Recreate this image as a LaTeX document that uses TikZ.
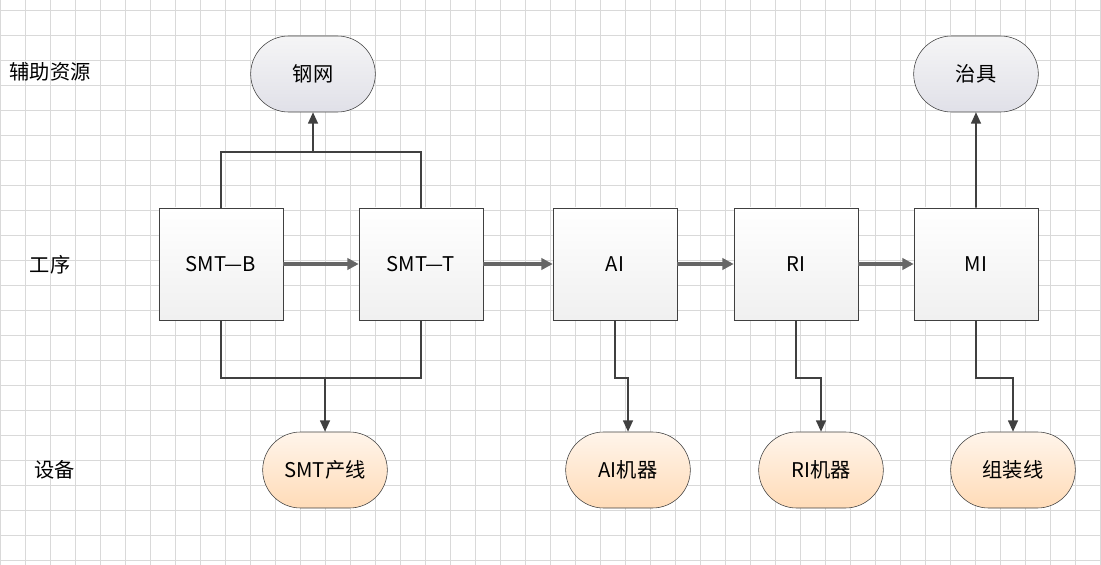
\documentclass[tikz,border=0pt]{standalone}
\usepackage{fontspec}
\setmainfont{Noto Sans CJK SC}
\usetikzlibrary{arrows.meta,positioning,shapes.misc}
\tikzset{%
	process/.style  = {draw=black!75, rectangle, minimum width=3.1cm, minimum height=2.8cm, top color=white, bottom color=black!6, font=\Large},
	stencil/.style  = {draw=black!75, rounded rectangle, minimum width=3.35cm, minimum height=1.9cm, top color=blue!12!black!4, bottom color=blue!25!black!12, font=\Large},
	machine/.style  = {draw=black!75, rounded rectangle, minimum width=3.35cm, minimum height=1.9cm, top color=orange!8, bottom color=orange!28, font=\Large},
	rowlabel/.style = {font=\Large},
	link/.style     = {draw=black!75, line width=1.1pt, -{Triangle[length=8pt,width=7pt]}},
	flow/.style     = {draw=black!60, line width=2.2pt, -{Triangle[length=8pt,width=8pt]}},
}
\begin{document}
\begin{tikzpicture}[x=0.025cm,y=-0.025cm]
	\useasboundingbox (0,0) rectangle (1101,565);
	% grid
	\foreach \gx in {0,25,...,1100} \draw[black!15] (\gx,0) -- (\gx,565);
	\foreach \gy in {10,35,...,560} \draw[black!15] (0,\gy) -- (1101,\gy);
	
	\node[rowlabel] (Laux) at (50,72) {辅助资源};
	\node[rowlabel] (Lstep) at (50,265) {工序};
	\node[rowlabel] (Ldev) at (55,470) {设备};
	
	\node[process] (SMTB) at (221,264) {SMT—B};
	\node[process] (SMTT) at (421,264) {SMT—T};
	\node[process] (AI) at (615,264) {AI};
	\node[process] (RI) at (796,264) {RI};
	\node[process] (MI) at (976,264) {MI};
	
	\node[stencil] (GW) at (313,74) {钢网};
	\node[stencil] (ZJ) at (976,74) {治具};
	
	\node[machine] (SMTL) at (325,470) {SMT产线};
	\node[machine] (AIM) at (628,470) {AI机器};
	\node[machine] (RIM) at (821,470) {RI机器};
	\node[machine] (ZZX) at (1013,470) {组装线};
	
	\draw[flow] (SMTB) -- (SMTT);
	\draw[flow] (SMTT) -- (AI);
	\draw[flow] (AI) -- (RI);
	\draw[flow] (RI) -- (MI);
	
	% top joins
	\coordinate (topj) at (313,152);
	\draw[draw=black!75, line width=1.1pt] (SMTB.north) |- (topj) -| (SMTT.north);
	\draw[link] (topj) -- (GW);
	\draw[link] (MI) -- (ZJ);
	
	% bottom joins
	\coordinate (botj) at (325,378);
	\draw[draw=black!75, line width=1.1pt] (SMTB.south) |- (botj) -| (SMTT.south);
	\draw[link] (botj) -- (SMTL);
	\draw[link] (AI.south) |- (628,378) -- (AIM);
	\draw[link] (RI.south) |- (821,378) -- (RIM);
	\draw[link] (MI.south) |- (1013,378) -- (ZZX);
\end{tikzpicture}
\end{document}
